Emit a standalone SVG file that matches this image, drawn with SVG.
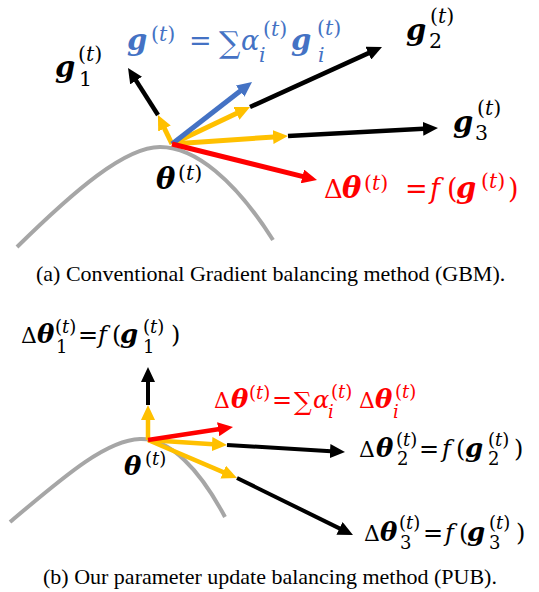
<svg xmlns="http://www.w3.org/2000/svg" width="539" height="592" viewBox="0 0 539 592">
<style>
.m{font-family:"DejaVu Serif","Liberation Serif",serif}
.bi{font-weight:bold;font-style:italic}
.it{font-style:italic}
.ga{font-size:29px}
.gb{font-size:26px}
.cap{font-family:"Liberation Serif","Times New Roman",serif;font-size:22px;fill:#000}
.curve{fill:none;stroke:#A6A6A6;stroke-width:4}
.k{stroke:#000;stroke-width:4.5;fill:none;marker-end:url(#hk)}
.y{stroke:#FFC000;stroke-width:5;fill:none;marker-end:url(#hy)}
.bl{stroke:#4472C4;stroke-width:5;fill:none;marker-end:url(#hb)}
.r{stroke:#FF0000;stroke-width:5;fill:none;marker-end:url(#hr)}
.kb{stroke:#000;stroke-width:4;fill:none;marker-end:url(#hk)}
.yb{stroke:#FFC000;stroke-width:4.5;fill:none;marker-end:url(#hy)}
.rb{stroke:#FF0000;stroke-width:4.5;fill:none;marker-end:url(#hr)}
.sa{font-size:20.5px}
.sb{font-size:18px}
</style>
<defs>
<marker id="hk" viewBox="0 0 15 14" refX="5" refY="7" markerWidth="15" markerHeight="14" orient="auto" markerUnits="userSpaceOnUse"><path d="M0,0 L15,7 L0,14 z" fill="#000"/></marker>
<marker id="hy" viewBox="0 0 15 14" refX="5" refY="7" markerWidth="15" markerHeight="14" orient="auto" markerUnits="userSpaceOnUse"><path d="M0,0 L15,7 L0,14 z" fill="#FFC000"/></marker>
<marker id="hb" viewBox="0 0 15 14" refX="5" refY="7" markerWidth="15" markerHeight="14" orient="auto" markerUnits="userSpaceOnUse"><path d="M0,0 L15,7 L0,14 z" fill="#4472C4"/></marker>
<marker id="hr" viewBox="0 0 15 14" refX="5" refY="7" markerWidth="15" markerHeight="14" orient="auto" markerUnits="userSpaceOnUse"><path d="M0,0 L15,7 L0,14 z" fill="#FF0000"/></marker>
</defs>
<rect width="539" height="592" fill="#fff"/>

<!-- Panel (a) -->
<g id="panel-a">
<path id="curve-a" class="curve" d="M17,247 C75,190 125,147 160,147 C195,147 235,180 273,240"/>
<g id="connectors-a">
<path class="k" d="M158,115 L133.4,76.4"/>
<path class="k" d="M250,107 L372.9,51.1"/>
<path class="k" d="M288,136 L428,128.5"/>
<path class="y" d="M172,144 L162.3,124"/>
<path class="y" d="M172,144 L241,111.3"/>
<path class="y" d="M172,144 L278,136.7"/>
<path class="bl" d="M172,144 L244.1,88.1"/>
<path class="r" d="M172,144 L307.3,177.6"/>
</g>
<g id="label-g1">
<text class="m" font-size="27" fill="#000"><tspan class="bi ga" x="55" y="77">g</tspan><tspan class="sa" x="78" y="61">(<tspan class="it">t</tspan>)</tspan><tspan class="sa" x="79" y="86">1</tspan></text>
</g>
<g id="label-g">
<text class="m" font-size="27" fill="#4472C4"><tspan class="bi ga" x="127" y="50">g</tspan><tspan class="sa" x="151" y="41">(<tspan class="it">t</tspan>)</tspan><tspan x="189" y="50">=</tspan><tspan x="219" y="53" font-size="30">∑</tspan><tspan class="it" x="241" y="50">α</tspan><tspan class="it sa" x="259" y="62">i</tspan><tspan class="sa" x="263" y="36">(<tspan class="it">t</tspan>)</tspan><tspan class="bi ga" x="291" y="50">g</tspan><tspan class="it sa" x="318" y="62">i</tspan><tspan class="sa" x="317" y="35">(<tspan class="it">t</tspan>)</tspan></text>
</g>
<g id="label-g2">
<text class="m" font-size="27" fill="#000"><tspan class="bi ga" x="406" y="40">g</tspan><tspan class="sa" x="430" y="23">(<tspan class="it">t</tspan>)</tspan><tspan class="sa" x="429" y="48">2</tspan></text>
</g>
<g id="label-g3">
<text class="m" font-size="27" fill="#000"><tspan class="bi ga" x="453" y="132">g</tspan><tspan class="sa" x="477" y="115">(<tspan class="it">t</tspan>)</tspan><tspan class="sa" x="475" y="140">3</tspan></text>
</g>
<g id="label-theta-a">
<text class="m" font-size="27" fill="#000"><tspan class="bi ga" x="156" y="189">θ</tspan><tspan class="sa" x="178" y="180">(<tspan class="it">t</tspan>)</tspan></text>
</g>
<g id="label-delta-a">
<text class="m" font-size="27" fill="#FF0000"><tspan x="324" y="198" font-size="26">Δ</tspan><tspan class="bi ga" x="342" y="198">θ</tspan><tspan class="sa" x="364" y="190">(<tspan class="it">t</tspan>)</tspan><tspan x="405" y="198">=</tspan><tspan class="it" x="430" y="198">f</tspan><tspan x="447" y="198">(</tspan><tspan class="bi ga" x="456" y="198">g</tspan><tspan class="sa" x="481" y="188">(<tspan class="it">t</tspan>)</tspan><tspan x="508" y="198">)</tspan></text>
</g>
<text id="caption-a" class="cap" x="36" y="281">(a) Conventional Gradient balancing method (GBM).</text>
</g>

<!-- Panel (b) -->
<g id="panel-b">
<path id="curve-b" class="curve" d="M10,522 C60,480 105,440 140,439 C170,438 200,470 225,517"/>
<g id="connectors-b">
<path class="kb" d="M148,405 L148,377"/>
<path class="kb" d="M227,445 L335,451.4"/>
<path class="kb" d="M237,478 L344,530.6"/>
<path class="yb" d="M148,440 L148,415"/>
<path class="yb" d="M148,440 L217,444.4"/>
<path class="yb" d="M148,440 L227.8,474.1"/>
<path class="rb" d="M148,440 L223.1,428.5"/>
</g>
<g id="label-dtheta1">
<text class="m" font-size="24" fill="#000"><tspan x="21" y="343" font-size="22">Δ</tspan><tspan class="bi gb" x="37" y="343">θ</tspan><tspan class="sb" x="55" y="333">(<tspan class="it">t</tspan>)</tspan><tspan class="sb" x="56" y="353">1</tspan><tspan x="78" y="343">=</tspan><tspan class="it" x="98" y="343">f</tspan><tspan x="112" y="343">(</tspan><tspan class="bi gb" x="120" y="343">g</tspan><tspan class="sb" x="143" y="333">(<tspan class="it">t</tspan>)</tspan><tspan class="sb" x="143" y="353">1</tspan><tspan x="171" y="343">)</tspan></text>
</g>
<g id="label-dtheta">
<text class="m" font-size="24" fill="#FF0000"><tspan x="214" y="408" font-size="22">Δ</tspan><tspan class="bi gb" x="231" y="408">θ</tspan><tspan class="sb" x="249" y="399">(<tspan class="it">t</tspan>)</tspan><tspan x="272" y="408">=</tspan><tspan x="294" y="410" font-size="25">∑</tspan><tspan class="it" x="313" y="408">α</tspan><tspan class="it sb" x="328" y="418">i</tspan><tspan class="sb" x="331" y="398">(<tspan class="it">t</tspan>)</tspan><tspan x="359" y="408" font-size="22">Δ</tspan><tspan class="bi gb" x="375" y="408">θ</tspan><tspan class="it sb" x="393" y="418">i</tspan><tspan class="sb" x="395" y="398">(<tspan class="it">t</tspan>)</tspan></text>
</g>
<g id="label-dtheta2">
<text class="m" font-size="24" fill="#000"><tspan x="359" y="457" font-size="22">Δ</tspan><tspan class="bi gb" x="376" y="457">θ</tspan><tspan class="sb" x="396" y="446">(<tspan class="it">t</tspan>)</tspan><tspan class="sb" x="397" y="465">2</tspan><tspan x="419" y="457">=</tspan><tspan class="it" x="442" y="457">f</tspan><tspan x="456" y="457">(</tspan><tspan class="bi gb" x="465" y="457">g</tspan><tspan class="sb" x="488" y="446">(<tspan class="it">t</tspan>)</tspan><tspan class="sb" x="488" y="465">2</tspan><tspan x="514" y="457">)</tspan></text>
</g>
<g id="label-dtheta3">
<text class="m" font-size="24" fill="#000"><tspan x="364" y="541" font-size="22">Δ</tspan><tspan class="bi gb" x="380" y="541">θ</tspan><tspan class="sb" x="399" y="529">(<tspan class="it">t</tspan>)</tspan><tspan class="sb" x="400" y="549">3</tspan><tspan x="423" y="541">=</tspan><tspan class="it" x="445" y="541">f</tspan><tspan x="459" y="541">(</tspan><tspan class="bi gb" x="467" y="541">g</tspan><tspan class="sb" x="489" y="529">(<tspan class="it">t</tspan>)</tspan><tspan class="sb" x="489" y="549">3</tspan><tspan x="516" y="541">)</tspan></text>
</g>
<g id="label-theta-b">
<text class="m" font-size="24" fill="#000"><tspan class="bi gb" x="124" y="475">θ</tspan><tspan class="sb" x="145" y="465">(<tspan class="it">t</tspan>)</tspan></text>
</g>
<text id="caption-b" class="cap" x="43" y="584">(b) Our parameter update balancing method (PUB).</text>
</g>
</svg>
